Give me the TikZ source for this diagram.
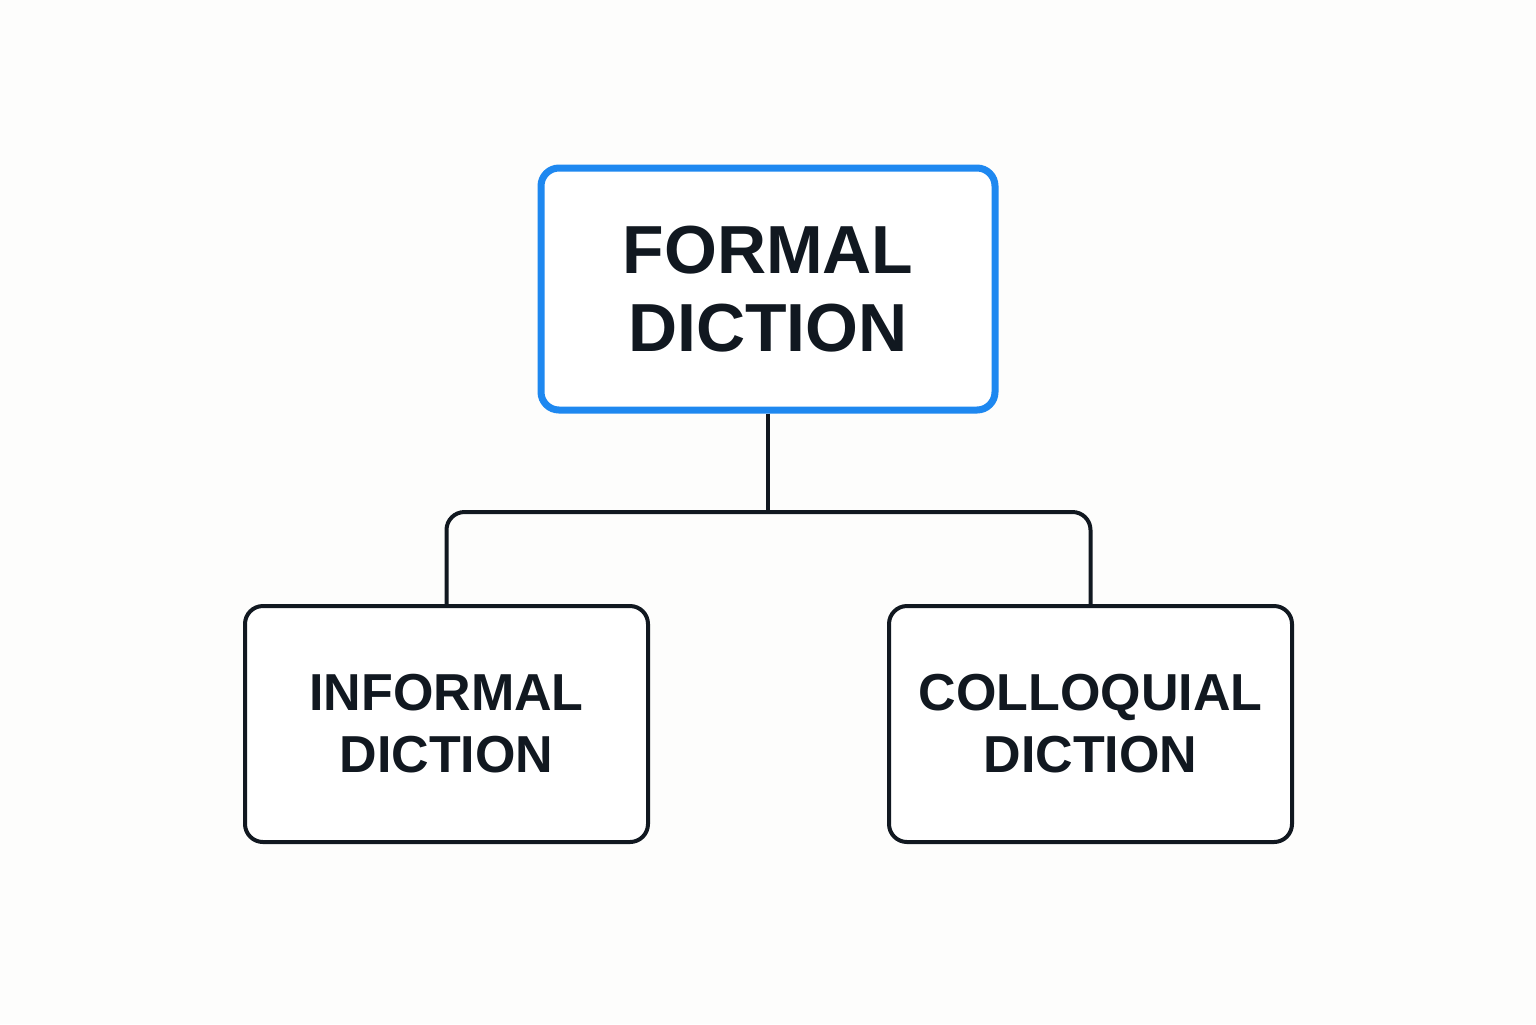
\documentclass[tikz,border=0pt]{standalone}
\usepackage{fontspec}
\setmainfont{Liberation Sans}
\definecolor{bluebox}{HTML}{1E88F0}
\definecolor{ink}{HTML}{111820}
\definecolor{bg}{HTML}{FDFDFC}
\begin{document}
\begin{tikzpicture}[x=0.5pt,y=-0.5pt,
  topbox/.style={draw=bluebox,line width=3.5pt,rounded corners=9pt,fill=white,
    minimum width=227pt,minimum height=121pt,align=center,text=ink,
    font=\fontsize{34}{39}\selectfont\bfseries, inner sep=0pt},
  subbox/.style={draw=ink,line width=2pt,rounded corners=9pt,fill=white,
    minimum width=201.5pt,minimum height=118pt,align=center,text=ink,
    font=\fontsize{26}{31}\selectfont\bfseries, inner sep=0pt},
  conn/.style={draw=ink,line width=2pt}]
\fill[bg] (0,0) rectangle (1536,1024);
\useasboundingbox (0,0) rectangle (1536,1024);
\node[topbox] (formal) at (768,289) {FORMAL\\DICTION};
\node[subbox] (informal) at (446.5,724) {INFORMAL\\DICTION};
\node[subbox] (colloq) at (1090.5,724) {COLLOQUIAL\\DICTION};
\coordinate (j) at (768,512);
\draw[conn] (formal.south) -- (j);
\draw[conn,rounded corners=9pt] (informal.north) |- (j) -| (colloq.north);
\end{tikzpicture}
\end{document}
